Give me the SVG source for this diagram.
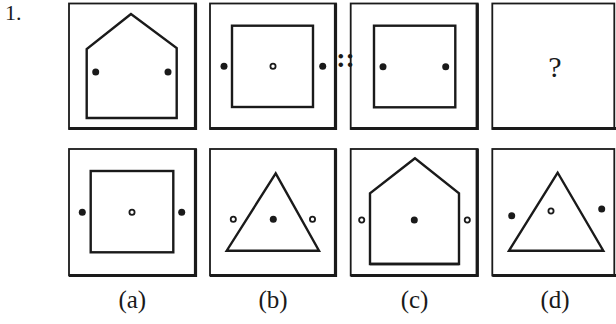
<svg xmlns="http://www.w3.org/2000/svg" width="616" height="324" viewBox="0 0 616 324">
<style>
.frame{fill:none;stroke:#1a1a1a;stroke-width:1.8}
.shade{stroke:#1a1a1a;stroke-width:3.2;fill:none}
.fig{fill:none;stroke:#1a1a1a;stroke-width:2.4;stroke-linejoin:miter}
.dot{fill:#1a1a1a}
.ring{fill:#fff;stroke:#1a1a1a;stroke-width:1.8}
.t{font-family:"Liberation Serif","Times New Roman",serif;fill:#1a1a1a}
</style>
<rect width="616" height="324" fill="#fff"/>
<text class="t" x="5" y="19.5" font-size="22">1.</text>

<g id="q1">
<rect class="frame" x="69" y="3.5" width="127" height="125.5"/>
<polyline class="shade" points="195.5,3.5 195.5,128.5 69,128.5"/>
<polygon class="fig" points="131,14 86.7,49 86.7,118 176.7,118 176.7,48"/>
<circle class="dot" cx="95.7" cy="72" r="3.5"/>
<circle class="dot" cx="168" cy="72" r="3.5"/>
</g>

<g id="q2">
<rect class="frame" x="210" y="3.5" width="126" height="125.5"/>
<polyline class="shade" points="335.5,3.5 335.5,128.5 210,128.5"/>
<rect class="fig" x="232" y="25.7" width="81" height="81.3"/>
<circle class="dot" cx="224" cy="66.3" r="3.5"/>
<circle class="ring" cx="273" cy="66.3" r="2.6"/>
<circle class="dot" cx="322.7" cy="66.3" r="3.5"/>
</g>

<g id="sep">
<text class="t" x="345.5" y="66.5" font-size="28" font-weight="bold" text-anchor="middle">::</text>
</g>

<g id="q3">
<rect class="frame" x="350.7" y="3.5" width="127" height="125.5"/>
<polyline class="shade" points="477.2,3.5 477.2,128.5 350.7,128.5"/>
<rect class="fig" x="374" y="25.7" width="81.3" height="81.6"/>
<circle class="dot" cx="383" cy="66.7" r="3.5"/>
<circle class="dot" cx="445.7" cy="66.7" r="3.5"/>
</g>

<g id="q4">
<rect class="frame" x="492.3" y="3.5" width="122" height="125.5"/>
<line class="shade" x1="492.3" y1="128.5" x2="616" y2="128.5"/>
<text class="t" x="555" y="77" font-size="30" text-anchor="middle">?</text>
</g>

<g id="a">
<rect class="frame" x="69" y="149" width="127" height="126.5"/>
<polyline class="shade" points="195.5,149 195.5,275.5 69,275.5"/>
<rect class="fig" x="90.7" y="171" width="82.6" height="81.3"/>
<circle class="dot" cx="82.3" cy="212.3" r="3.5"/>
<circle class="ring" cx="132" cy="212.3" r="2.6"/>
<circle class="dot" cx="181.7" cy="212.3" r="3.5"/>
<text class="t" x="132.3" y="308" font-size="25" text-anchor="middle">(a)</text>
</g>

<g id="b">
<rect class="frame" x="210" y="149" width="126" height="126.5"/>
<polyline class="shade" points="335.5,149 335.5,275.5 210,275.5"/>
<polygon class="fig" points="275.7,173.3 226.7,250.7 319,250.7"/>
<circle class="ring" cx="233.3" cy="219.3" r="2.6"/>
<circle class="dot" cx="273.3" cy="219.3" r="3.5"/>
<circle class="ring" cx="312.5" cy="219.3" r="2.6"/>
<text class="t" x="273" y="308" font-size="25" text-anchor="middle">(b)</text>
</g>

<g id="c">
<rect class="frame" x="350.7" y="149" width="127" height="126.5"/>
<polyline class="shade" points="477.2,149 477.2,275.5 350.7,275.5"/>
<polygon class="fig" points="415,158.3 370,193.3 370,264 459,264 459,193.3"/>
<line class="fig" x1="370" y1="264" x2="459" y2="264" stroke-width="3.4"/>
<circle class="ring" cx="361.7" cy="220" r="2.6"/>
<circle class="dot" cx="414.3" cy="220" r="3.5"/>
<circle class="ring" cx="467.3" cy="220" r="2.6"/>
<text class="t" x="414.5" y="308" font-size="25" text-anchor="middle">(c)</text>
</g>

<g id="d">
<rect class="frame" x="492.3" y="149" width="122" height="126.5"/>
<line class="shade" x1="492.3" y1="275.5" x2="616" y2="275.5"/>
<polygon class="fig" points="557.7,172.7 509,250.7 603.3,250.7"/>
<circle class="dot" cx="511.7" cy="215.7" r="3.5"/>
<circle class="ring" cx="551" cy="211" r="2.6"/>
<circle class="dot" cx="601.7" cy="209" r="3.5"/>
<text class="t" x="555" y="308" font-size="25" text-anchor="middle">(d)</text>
</g>
</svg>
